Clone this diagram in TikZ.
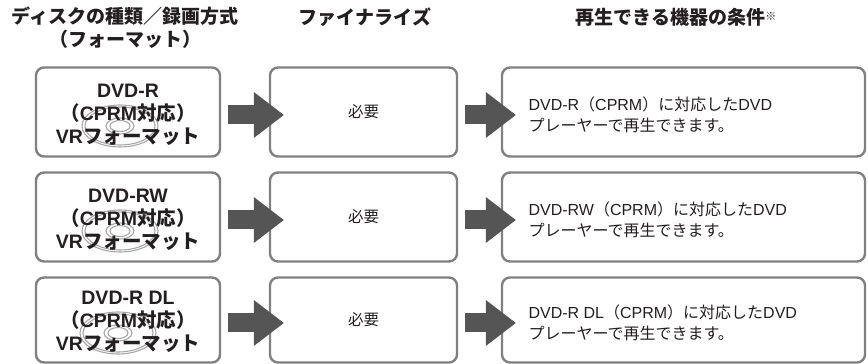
\documentclass[tikz,border=0pt]{standalone}
\usepackage{fontspec}
\setmainfont{Noto Sans CJK JP}
\newfontfamily\latinfont{Liberation Sans}
\newcommand{\latn}[1]{{\latinfont #1}}
\usetikzlibrary{arrows.meta, positioning}
\definecolor{boxgray}{HTML}{808080}
\definecolor{arrowgray}{HTML}{555555}
\definecolor{discgray}{HTML}{A6A6A6}
\definecolor{inkblack}{HTML}{231F20}

\tikzset{
  discbox/.style={draw=boxgray, line width=2.4pt, rounded corners=8pt,
    minimum width=184pt, minimum height=89pt, inner sep=0pt},
  fmttext/.style={align=center, text=inkblack,
    font=\fontsize{19.5}{23}\selectfont\bfseries},
  finbox/.style={discbox, minimum width=187pt, text=inkblack,
    font=\fontsize{15.5}{18}\selectfont},
  playbox/.style={discbox, minimum width=363pt},
  playtext/.style={anchor=west, align=left, text=inkblack,
    font=\fontsize{16}{21}\selectfont},
  headtext/.style={align=center, text=inkblack,
    font=\fontsize{19}{23}\selectfont\bfseries},
  ring/.style={draw=discgray, line width=1.1pt},
  flowarrow/.style={arrowgray, line width=19pt,
    -{Triangle[width=46pt, length=30pt, line width=0pt]},
    shorten <=7pt, shorten >=-15pt},
}

\begin{document}
\begin{tikzpicture}[x=1pt, y=1pt]
\useasboundingbox (0,0) rectangle (868,364);

% column heads
\node[headtext] (hdisc) at (125,336) {ディスクの種類／録画方式\\（フォーマット）};
\node[headtext] (hfin) at (365,347) {ファイナライズ};
\node[headtext] (hplay) at (676,347) {再生できる機器の条件\raisebox{4pt}{\fontsize{11}{11}\selectfont ※}};

% row 1: DVD-R
\draw[ring] (120,238) ellipse [x radius=38, y radius=21];
\draw[ring] (120,238) ellipse [x radius=35, y radius=19];
\draw[ring] (120,238) ellipse [x radius=14, y radius=8];
\draw[ring] (120,238) ellipse [x radius=10, y radius=5.5];
\node[discbox] (d1) at (128,252) {};
\node[fmttext] (d1t) at (128,249) {\latn{DVD-R}\\（\latn{CPRM}対応）\\\latn{VR}フォーマット};
\node[finbox] (f1) at (363.5,252) {必要};
\node[playbox] (p1) at (683.5,252) {};
\node[playtext] (p1t) at (525,249) {\latn{DVD-R}（\latn{CPRM}）に対応した\latn{DVD}\\プレーヤーで再生できます。};
\draw[flowarrow] ([yshift=-3pt]d1.east) -- ([yshift=-3pt]f1.west);
\draw[flowarrow] ([yshift=-3pt]f1.east) -- ([yshift=-3pt]p1.west);

% row 2: DVD-RW
\draw[ring] (120,133) ellipse [x radius=38, y radius=21];
\draw[ring] (120,133) ellipse [x radius=35, y radius=19];
\draw[ring] (120,133) ellipse [x radius=14, y radius=8];
\draw[ring] (120,133) ellipse [x radius=10, y radius=5.5];
\node[discbox] (d2) at (128,147) {};
\node[fmttext] (d2t) at (128,144) {\latn{DVD-RW}\\（\latn{CPRM}対応）\\\latn{VR}フォーマット};
\node[finbox] (f2) at (363.5,147) {必要};
\node[playbox] (p2) at (683.5,147) {};
\node[playtext] (p2t) at (525,144) {\latn{DVD-RW}（\latn{CPRM}）に対応した\latn{DVD}\\プレーヤーで再生できます。};
\draw[flowarrow] ([yshift=-3pt]d2.east) -- ([yshift=-3pt]f2.west);
\draw[flowarrow] ([yshift=-3pt]f2.east) -- ([yshift=-3pt]p2.west);

% row 3: DVD-R DL
\draw[ring] (118,31) ellipse [x radius=38, y radius=21];
\draw[ring] (118,31) ellipse [x radius=35, y radius=19];
\draw[ring] (118,31) ellipse [x radius=14, y radius=8];
\draw[ring] (118,31) ellipse [x radius=10, y radius=5.5];
\node[discbox, minimum height=85pt] (d3) at (128,44) {};
\node[fmttext] (d3t) at (128,42) {\latn{DVD-R DL}\\（\latn{CPRM}対応）\\\latn{VR}フォーマット};
\node[finbox, minimum height=85pt] (f3) at (363.5,44) {必要};
\node[playbox, minimum height=85pt] (p3) at (683.5,44) {};
\node[playtext] (p3t) at (525,41) {\latn{DVD-R DL}（\latn{CPRM}）に対応した\latn{DVD}\\プレーヤーで再生できます。};
\draw[flowarrow] ([yshift=-3pt]d3.east) -- ([yshift=-3pt]f3.west);
\draw[flowarrow] ([yshift=-3pt]f3.east) -- ([yshift=-3pt]p3.west);
\end{tikzpicture}
\end{document}
